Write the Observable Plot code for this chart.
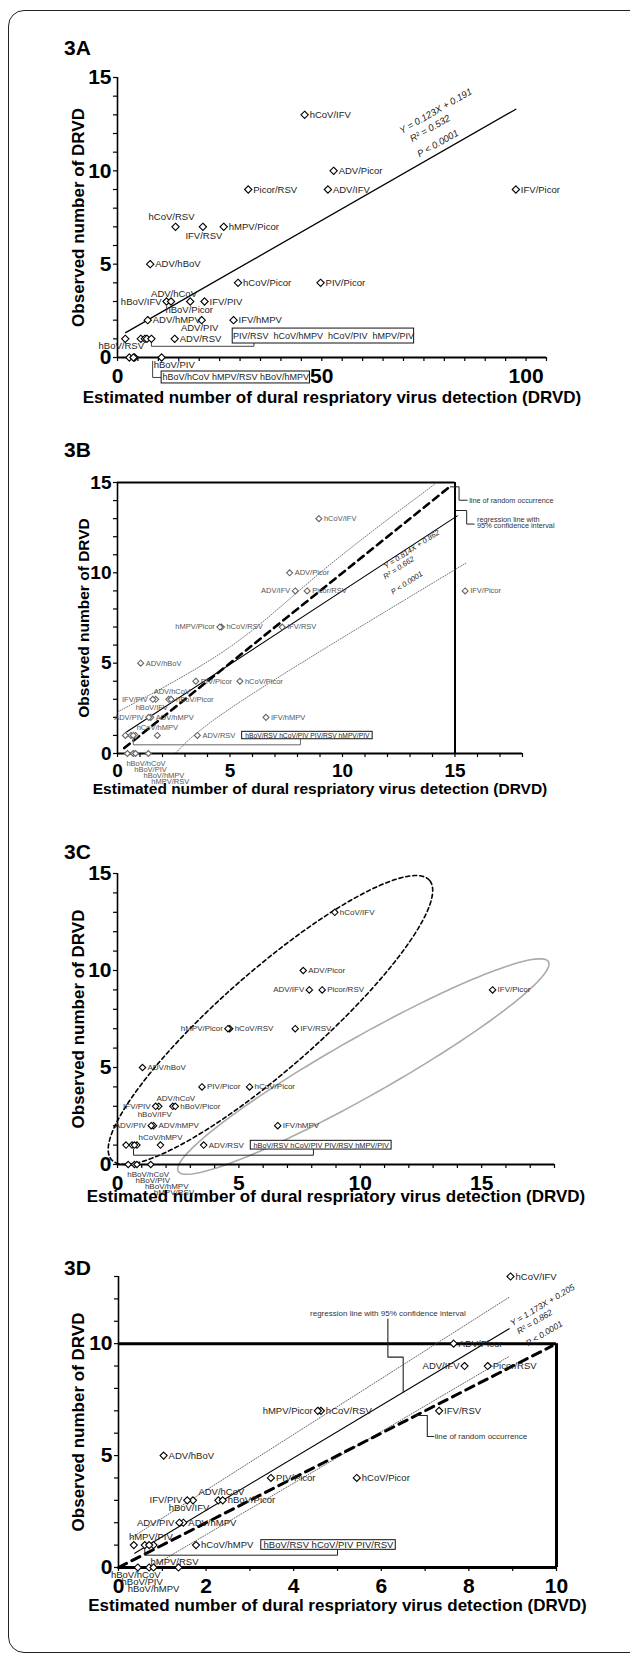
<!DOCTYPE html>
<html><head><meta charset="utf-8">
<script src="https://cdn.jsdelivr.net/npm/d3@7"></script>
<script src="https://cdn.jsdelivr.net/npm/@observablehq/plot@0.6"></script>
<style>
html,body{margin:0;padding:0;background:#fff;overflow:hidden;}
#page{position:relative;width:630px;height:1658px;font-family:"Liberation Sans",Arial,sans-serif;overflow:hidden;}
#border{position:absolute;left:8px;top:10px;width:640px;height:1643px;border:1.5px solid #222;border-radius:16px;box-sizing:border-box;}
.head{position:absolute;left:64px;font-weight:bold;font-size:21px;line-height:21px;}
</style></head><body><div id="page"><div id="border"></div></div>
<script>
// ---------------- data ----------------
const pairs = ["hCoV/IFV","ADV/Picor","ADV/IFV","Picor/RSV","IFV/Picor","hCoV/RSV","IFV/RSV","hMPV/Picor","ADV/hBoV","hCoV/Picor","PIV/Picor","hBoV/IFV","ADV/hCoV","hBoV/Picor","IFV/PIV","ADV/hMPV","ADV/PIV","IFV/hMPV","hBoV/RSV","PIV/RSV","hCoV/hMPV","hCoV/PIV","hMPV/PIV","ADV/RSV","hBoV/hCoV","hBoV/PIV","hBoV/hMPV","hMPV/RSV"];
const observed = [13,10,9,9,9,7,7,7,5,4,4,3,3,3,3,2,2,2,1,1,1,1,1,1,0,0,0,0];
const estimatedA = [45.8,52.9,51.5,32,97.5,14.2,20.9,26,8,29.5,49.7,12,13.1,17.8,21.3,7.4,20.6,28.4,1.9,5.7,6.7,7.2,8.3,14,2.9,10.8,4.2,3.9];
const estimatedB = [8.95,7.65,7.9,8.43,15.45,4.62,7.32,4.55,1.03,5.44,3.48,1.7,2.28,2.38,1.57,1.48,1.39,6.6,0.6,0.8,1.77,0.7,0.35,3.55,0.44,0.7,0.8,1.37];
const excludedD = ["IFV/Picor","IFV/hMPV","ADV/RSV"];

const groupA1 = ["PIV/RSV","hCoV/hMPV","hCoV/PIV","hMPV/PIV"];
const groupA0 = ["hBoV/hCoV","hMPV/RSV","hBoV/hMPV"];
const groupBC1 = ["hBoV/RSV","hCoV/PIV","PIV/RSV","hMPV/PIV"];
const groupD1 = ["hBoV/RSV","hCoV/PIV","PIV/RSV"];

const fitA = {x: [2, 97.5], y: [1.33, 13.3]};
const regB = {slope: 0.814, intercept: 0.862, from: 0.4, to: 15.1};
const regD = {slope: 1.173, intercept: 0.205, from: 0.37, to: 8.92};
const randomB = [0.3, 14.75];
const randomD = [0, 9.9];
const ciUpperB = {x: [0, 5, 9.1, 14.2], y: [2.3, 5.9, 10.1, 15]};
const ciLowerB = {x: [2.6, 5.5, 12.7, 15.5], y: [0.05, 2.9, 8.45, 10.55]};
const ciUpperD = {x: [0.28, 8.94], y: [1.31, 12.1]};
const ciLowerD = {x: [0.9, 8.92], y: [0.2, 9.43]};
const eqA = ["Y = 0.123X + 0.191", "R\u00b2 = 0.532", "P < 0.0001"];
const eqB = ["Y = 0.814X + 0.862", "R\u00b2 = 0.662", "P < 0.0001"];
const eqD = ["Y = 1.173X + 0.205", "R\u00b2 = 0.862", "P < 0.0001"];
const xTitle = "Estimated number of dural respriatory virus detection (DRVD)";
const yTitle = "Observed number of DRVD";

// ---------------- layout (not data) ----------------
const FONT = "Liberation Sans, Arial, sans-serif";
const page = document.getElementById("page");
function rowsOf(est, exclude = []) {
  return pairs.map((n, i) => ({name: n, x: est[i], y: observed[i]})).filter(d => !exclude.includes(d.name));
}
function pts(o) { return o.x.map((x, i) => ({x, y: o.y[i]})); }
function segs(arr) { return arr.map(p => ({x: p[0], y: p[1]})); }
function labelMarks(rows, pos, hidden, sx, sy, font, color) {
  const out = {start: [], middle: [], end: []};
  rows.forEach(r => {
    if (hidden.includes(r.name)) return;
    const p = pos[r.name] || ["start", 5, 0];
    out[p[0]].push({x: r.x + p[1] / sx, y: r.y - p[2] / sy, t: r.name});
  });
  return ["start", "middle", "end"].map(a => Plot.text(out[a], {x: "x", y: "y", text: "t", textAnchor: a, fontSize: font, fill: color}));
}
function boxMarks(b, names, font, sep) {
  return [
    Plot.rect([b], {x1: "x1", x2: "x2", y1: "y1", y2: "y2", fill: "white", stroke: "#111", strokeWidth: 1}),
    Plot.text([b], {x: d => (d.x1 + d.x2) / 2, y: d => (d.y1 + d.y2) / 2, text: () => names.join(sep), fontSize: font, fill: "#222"})
  ];
}
function ellipsePts(p1, p2, b, sx, sy, n = 160) {
  const X1 = p1[0] * sx, Y1 = p1[1] * sy, X2 = p2[0] * sx, Y2 = p2[1] * sy;
  const cx = (X1 + X2) / 2, cy = (Y1 + Y2) / 2, a = Math.hypot(X2 - X1, Y2 - Y1) / 2, th = Math.atan2(Y2 - Y1, X2 - X1);
  return d3.range(n + 1).map(i => {
    const t = 2 * Math.PI * i / n, ex = a * Math.cos(t), ey = b * Math.sin(t);
    return {x: (cx + ex * Math.cos(th) - ey * Math.sin(th)) / sx, y: (cy + ex * Math.sin(th) + ey * Math.cos(th)) / sy};
  });
}
function eqMarks(lines, posList, slope, sx, sy, font) {
  const ang = Math.atan(slope * sy / sx) * 180 / Math.PI;
  return Plot.text(lines.map((t, i) => ({t, x: posList[i][0], y: posList[i][1]})),
    {x: "x", y: "y", text: "t", rotate: -ang, fontSize: font, fontStyle: "italic", fill: "#222"});
}

function panel(c) {
  const sx = (c.x1 - c.x0) / c.xMax, sy = (c.yBot - c.yTop) / c.yMax;
  const marks = c.extra(sx, sy);
  const h = document.createElement("div");
  h.className = "head"; h.textContent = c.head; h.style.top = (c.headY - 11) + "px"; page.appendChild(h);
  const plot = Plot.plot({
    width: 630, height: c.height,
    marginLeft: c.x0, marginRight: 630 - c.x1, marginTop: c.yTop - c.top, marginBottom: c.top + c.height - c.yBot,
    x: {domain: [0, c.xMax]}, y: {domain: [0, c.yMax]},
    style: {fontFamily: FONT, background: "transparent", overflow: "visible"},
    marks: [
      ...marks,
      Plot.ruleY([0], {x1: 0, x2: c.xMax, strokeWidth: c.axisW}),
      Plot.ruleX([0], {y1: 0, y2: c.yMax, strokeWidth: 1.6}),
      Plot.axisY(d3.range(0, c.yMax + 1), {tickSize: 4, tickFormat: () => "", strokeWidth: 1.2}),
      Plot.axisY(c.yMajor, {tickSize: 0, tickPadding: 6, fontSize: c.tickFont, fontWeight: "bold", fill: "#000"}),
      Plot.axisX(d3.range(0, c.xMax + 0.001, c.xMinor), {tickSize: 4, tickFormat: () => "", strokeWidth: 1.2}),
      Plot.axisX(c.xMajor, {tickSize: 0, tickPadding: c.xPad, fontSize: c.tickFont, fontWeight: "bold", fill: "#000"}),
      Plot.dot(c.rows, {x: "x", y: "y", symbol: "diamond2", r: c.r, stroke: c.dotColor, fill: "white", strokeWidth: 1.1}),
      ...labelMarks(c.rows, c.pos, c.hidden, sx, sy, c.labelFont, c.labelColor),
      ...c.after(sx, sy),
      Plot.text([xTitle], {frameAnchor: "bottom", dy: c.titleDy, fontSize: c.titleFont, fontWeight: "bold", fill: "#000"}),
      Plot.text([yTitle], {x: (c.yTitleX - c.x0) / sx, y: c.yMax / 2, rotate: -90, fontSize: c.titleFont, fontWeight: "bold", fill: "#000"})
    ]
  });
  plot.style.position = "absolute"; plot.style.left = "0px"; plot.style.top = c.top + "px";
  page.appendChild(plot);
}

// ---- 3A ----
const posA = {
  "hCoV/RSV": ["middle", -4, -10], "IFV/RSV": ["middle", 1, 9], "ADV/hCoV": ["middle", 3, -8],
  "hBoV/IFV": ["end", -5, 0], "hBoV/Picor": ["middle", -1, 8], "ADV/PIV": ["middle", -2, 8],
  "hBoV/RSV": ["middle", -4, 7], "hBoV/PIV": ["start", -8, 7]
};
panel({
  head: "3A", headY: 48, top: 60, height: 370, x0: 117, x1: 546, xMax: 105, yTop: 77, yBot: 357, yMax: 15,
  xMajor: [0, 50, 100], xMinor: 5, yMajor: [0, 5, 10, 15], tickFont: 21, xPad: 11, axisW: 2,
  rows: rowsOf(estimatedA), pos: posA, hidden: [...groupA1, ...groupA0], r: 3.3, dotColor: "#000",
  labelFont: 9.5, labelColor: "#222", titleFont: 17, titleDy: 45, yTitleX: 78,
  extra: (sx, sy) => [
    Plot.line(pts(fitA), {x: "x", y: "y", stroke: "#000", strokeWidth: 1.3}),
    Plot.line(segs([[8.3, 0.85], [8.3, 0.6], [33.4, 0.6], [33.4, 0.75]]), {x: "x", y: "y", stroke: "#444", strokeWidth: 1}),
    Plot.line(segs([[8.6, -0.2], [8.6, -1.07], [10.8, -1.07]]), {x: "x", y: "y", stroke: "#444", strokeWidth: 1})
  ],
  after: (sx, sy) => [
    ...boxMarks({x1: 28.2, x2: 72.6, y1: 0.75, y2: 1.55}, groupA1, 9, "  "),
    ...boxMarks({x1: 10.8, x2: 47.1, y1: -0.75, y2: -1.39}, groupA0, 9, " "),
    eqMarks(eqA, [[77.9, 13.2], [76.5, 12.27], [78.4, 11.46]], (fitA.y[1] - fitA.y[0]) / (fitA.x[1] - fitA.x[0]), sx, sy, 9.5)
  ]
});

// ---- 3B ----
const posBC = {
  "ADV/IFV": ["end", -5, 0], "hMPV/Picor": ["end", -5, 0], "IFV/PIV": ["end", -5, 0],
  "ADV/hCoV": ["middle", 3, -8], "hBoV/IFV": ["middle", -4, 8], "ADV/PIV": ["end", -5, 0],
  "hCoV/hMPV": ["middle", 0, -8],
  "hBoV/hCoV": ["start", -1, 10], "hBoV/PIV": ["start", 1, 16], "hBoV/hMPV": ["start", 8, 22], "hMPV/RSV": ["start", 3, 28]
};
const regLine = r => [{x: r.from, y: r.slope * r.from + r.intercept}, {x: r.to, y: r.slope * r.to + r.intercept}];
panel({
  head: "3B", headY: 450, top: 465, height: 345, x0: 117, x1: 522, xMax: 18, yTop: 482, yBot: 753, yMax: 15,
  xMajor: [0, 5, 10, 15], xMinor: 1, yMajor: [0, 5, 10, 15], tickFont: 19, xPad: 10, axisW: 2,
  rows: rowsOf(estimatedB), pos: posBC, hidden: groupBC1, r: 2.7, dotColor: "#666",
  labelFont: 7.5, labelColor: "#555", titleFont: 15.5, titleDy: 40, yTitleX: 84,
  extra: (sx, sy) => [
    Plot.ruleY([15], {x1: 0, x2: 15, strokeWidth: 2}),
    Plot.ruleX([15], {y1: 0, y2: 15, strokeWidth: 2}),
    Plot.line(pts(ciUpperB), {x: "x", y: "y", stroke: "#666", strokeWidth: 0.9, strokeDasharray: "1,1.6", curve: "natural"}),
    Plot.line(pts(ciLowerB), {x: "x", y: "y", stroke: "#666", strokeWidth: 0.9, strokeDasharray: "1,1.6", curve: "natural"}),
    Plot.line(regLine(regB), {x: "x", y: "y", stroke: "#000", strokeWidth: 1.1}),
    Plot.line(randomB.map(v => ({x: v, y: v})), {x: "x", y: "y", stroke: "#000", strokeWidth: 2.6, strokeDasharray: "7,5"}),
    Plot.line(segs([[14.79, 14.76], [15.18, 14.76], [15.18, 14.02], [15.54, 14.02]]), {x: "x", y: "y", stroke: "#222", strokeWidth: 1}),
    Plot.line(segs([[15.05, 13.45], [15.52, 13.45], [15.52, 12.7], [15.85, 12.7]]), {x: "x", y: "y", stroke: "#222", strokeWidth: 1}),
    Plot.line(segs([[0.7, 0.8], [0.7, 0.48], [8.13, 0.48], [8.13, 0.79]]), {x: "x", y: "y", stroke: "#666", strokeWidth: 1})
  ],
  after: (sx, sy) => [
    ...boxMarks({x1: 5.54, x2: 11.34, y1: 0.79, y2: 1.2}, groupBC1, 6.7, " "),
    eqMarks(eqB, [[13.07, 11.3], [12.5, 10.28], [12.86, 9.44]], regB.slope, sx, sy, 7.5),
    Plot.text(["line of random occurrence"], {x: 15.63, y: 14.02, textAnchor: "start", fontSize: 7.3, fill: "#333"}),
    Plot.text(["regression line with"], {x: 15.98, y: 12.96, textAnchor: "start", fontSize: 7.3, fill: "#333"}),
    Plot.text(["95% confidence interval"], {x: 15.98, y: 12.6, textAnchor: "start", fontSize: 7.3, fill: "#333"})
  ]
});

// ---- 3C ----
const dashedEllipse = {tips: [[-0.25, 0.25], [12.85, 14.65]], halfWidth: 49};
const greyEllipse = {tips: [[2.5, -0.35], [17.75, 10.45]], halfWidth: 29};
panel({
  head: "3C", headY: 852, top: 858, height: 360, x0: 117, x1: 554, xMax: 18, yTop: 873, yBot: 1164, yMax: 15,
  xMajor: [0, 5, 10, 15], xMinor: 1, yMajor: [0, 5, 10, 15], tickFont: 21, xPad: 11, axisW: 2,
  rows: rowsOf(estimatedB), pos: posBC, hidden: groupBC1, r: 2.9, dotColor: "#000",
  labelFont: 8, labelColor: "#333", titleFont: 17, titleDy: 37, yTitleX: 78,
  extra: (sx, sy) => [
    Plot.line(ellipsePts(...dashedEllipse.tips, dashedEllipse.halfWidth, sx, sy), {x: "x", y: "y", stroke: "#000", strokeWidth: 1.6, strokeDasharray: "4,3"}),
    Plot.line(ellipsePts(...greyEllipse.tips, greyEllipse.halfWidth, sx, sy), {x: "x", y: "y", stroke: "#aaa", strokeWidth: 1.6}),
    Plot.line(segs([[0.66, 0.8], [0.66, 0.48], [8.07, 0.48], [8.07, 0.77]]), {x: "x", y: "y", stroke: "#222", strokeWidth: 1})
  ],
  after: (sx, sy) => [
    ...boxMarks({x1: 5.49, x2: 11.29, y1: 0.77, y2: 1.22}, groupBC1, 7.3, " ")
  ]
});

// ---- 3D ----
const posD = {
  "ADV/IFV": ["end", -5, 0], "hMPV/Picor": ["end", -5, 0], "IFV/PIV": ["end", -5, 0],
  "hBoV/IFV": ["middle", -4, 8], "ADV/hCoV": ["middle", 3, -8], "ADV/PIV": ["end", -5, 0],
  "hMPV/PIV": ["middle", 17, -8], "hMPV/RSV": ["middle", -4, -6],
  "hBoV/hCoV": ["middle", -2, 7], "hBoV/PIV": ["middle", -7, 14], "hBoV/hMPV": ["middle", 0, 21]
};
panel({
  head: "3D", headY: 1268, top: 1262, height: 370, x0: 118, x1: 556, xMax: 10, yTop: 1276, yBot: 1567, yMax: 13,
  xMajor: [0, 2, 4, 6, 8, 10], xMinor: 1, yMajor: [0, 5, 10], tickFont: 21, xPad: 11, axisW: 3,
  rows: rowsOf(estimatedB, excludedD), pos: posD, hidden: groupD1, r: 3.2, dotColor: "#000",
  labelFont: 9.5, labelColor: "#222", titleFont: 17, titleDy: 43, yTitleX: 78,
  extra: (sx, sy) => [
    Plot.ruleY([10], {x1: 0, x2: 10, strokeWidth: 3}),
    Plot.ruleX([10], {y1: 0, y2: 10, strokeWidth: 3}),
    Plot.line(pts(ciUpperD), {x: "x", y: "y", stroke: "#555", strokeWidth: 0.9, strokeDasharray: "1,1.6"}),
    Plot.line(pts(ciLowerD), {x: "x", y: "y", stroke: "#555", strokeWidth: 0.9, strokeDasharray: "1,1.6"}),
    Plot.line(regLine(regD), {x: "x", y: "y", stroke: "#000", strokeWidth: 1.1}),
    Plot.line(randomD.map(v => ({x: v, y: v})), {x: "x", y: "y", stroke: "#000", strokeWidth: 3, strokeDasharray: "9,6"}),
    Plot.line(segs([[6.15, 11.1], [6.15, 9.4], [6.5, 9.4], [6.5, 7.83]]), {x: "x", y: "y", stroke: "#222", strokeWidth: 1.1}),
    Plot.line(segs([[6.79, 6.79], [7.05, 6.79], [7.05, 5.85], [7.2, 5.85]]), {x: "x", y: "y", stroke: "#222", strokeWidth: 1.1}),
    Plot.line(segs([[0.6, 0.8], [0.6, 0.55], [5.0, 0.55], [5.0, 0.79]]), {x: "x", y: "y", stroke: "#222", strokeWidth: 1})
  ],
  after: (sx, sy) => [
    ...boxMarks({x1: 3.26, x2: 6.33, y1: 0.79, y2: 1.22}, groupD1, 9.5, " "),
    eqMarks(eqD, [[9.68, 11.72], [9.5, 10.97], [9.72, 10.45]], regD.slope, sx, sy, 8.5),
    Plot.text(["regression line with 95% confidence interval"], {x: 6.15, y: 11.34, textAnchor: "middle", fontSize: 8, fill: "#333"}),
    Plot.text(["line of random occurrence"], {x: 7.22, y: 5.85, textAnchor: "start", fontSize: 8, fill: "#333"})
  ]
});
</script></body></html>
